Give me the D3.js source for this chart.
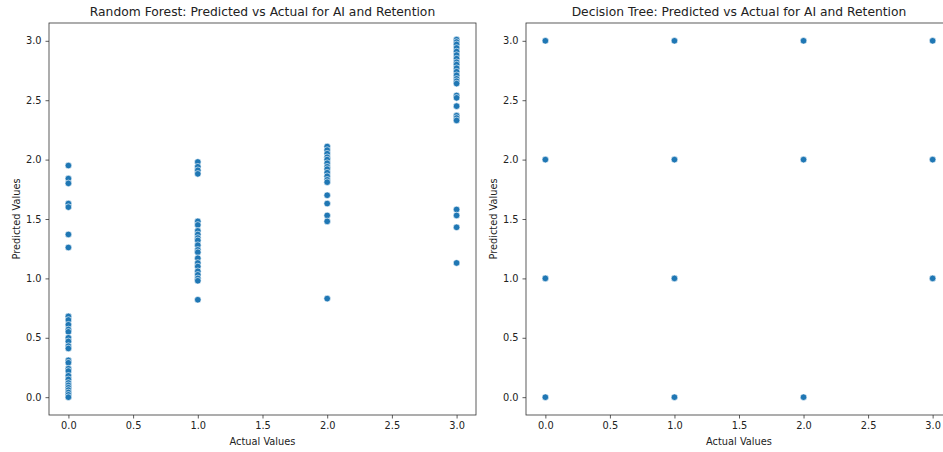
<!DOCTYPE html>
<html>
<head>
<meta charset="UTF-8">
<script src="https://d3js.org/d3.v7.min.js"></script>
<style>
  body { margin: 0; background: #fff; }
  text { font-family: "DejaVu Sans", sans-serif; fill: #222; }
</style>
</head>
<body>
<svg id="chart" width="943" height="452"></svg>
<script>
// ticks used on both axes of both panels
var tickValues = [0.0, 0.5, 1.0, 1.5, 2.0, 2.5, 3.0];

// Random Forest predictions, grouped by actual value
var rfActual0 = [1.95, 1.84, 1.80, 1.63, 1.60, 1.37, 1.26,
  0.68, 0.65, 0.61, 0.57, 0.55, 0.50, 0.47, 0.43, 0.41, 0.31, 0.29, 0.24, 0.22,
  0.18, 0.15, 0.12, 0.10, 0.08, 0.06, 0.04, 0.02, 0.0];
var rfActual1 = [1.98, 1.94, 1.91, 1.88,
  1.48, 1.45, 1.40, 1.37, 1.34, 1.32, 1.28, 1.24, 1.22, 1.17, 1.13, 1.10, 1.06,
  1.03, 1.00, 0.98, 0.82];
var rfActual2 = [2.11, 2.08, 2.05, 2.02, 2.00, 1.97, 1.94, 1.92, 1.89, 1.86,
  1.83, 1.81, 1.70, 1.63, 1.53, 1.48, 0.83];
var rfActual3 = [3.01, 2.99, 2.97, 2.94, 2.91, 2.88, 2.85, 2.82, 2.80, 2.77,
  2.74, 2.71, 2.68, 2.66, 2.64, 2.54, 2.52, 2.45, 2.37, 2.35, 2.33,
  1.58, 1.53, 1.43, 1.13];

// Decision Tree predictions, grouped by actual value
var dtActual0 = [3, 2, 1, 0];
var dtActual1 = [3, 2, 1, 0];
var dtActual2 = [3, 2, 0];
var dtActual3 = [3, 2, 1];

function toPoints(groups) {
  var pts = [];
  groups.forEach(function(vals, i) {
    vals.forEach(function(v) { pts.push({actual: i, predicted: v}); });
  });
  return pts;
}

var panels = [
  {title: "Random Forest: Predicted vs Actual for AI and Retention",
   left: 49, right: 476, data: toPoints([rfActual0, rfActual1, rfActual2, rfActual3])},
  {title: "Decision Tree: Predicted vs Actual for AI and Retention",
   left: 526, right: 952, data: toPoints([dtActual0, dtActual1, dtActual2, dtActual3])}
];

var plotTop = 23, plotBottom = 415;
var svg = d3.select("#chart");

panels.forEach(function(p) {
  var x = d3.scaleLinear().domain([-0.15, 3.15]).range([p.left, p.right]);
  var y = d3.scaleLinear().domain([-0.15, 3.15]).range([plotBottom, plotTop]);
  var g = svg.append("g");

  // points
  g.append("g").selectAll("circle")
    .data(p.data)
    .enter().append("circle")
      .attr("cx", function(d) { return x(d.actual); })
      .attr("cy", function(d) { return y(d.predicted); })
      .attr("r", 3.3)
      .attr("fill", "#1f77b4")
      .attr("stroke", "#fff")
      .attr("stroke-width", 0.6);

  // axes
  var xa = g.append("g")
    .attr("transform", "translate(0," + plotBottom + ")")
    .call(d3.axisBottom(x).tickValues(tickValues).tickFormat(d3.format(".1f")).tickSize(3.5).tickPadding(4).tickSizeOuter(0));
  var ya = g.append("g")
    .attr("transform", "translate(" + p.left + ",0)")
    .call(d3.axisLeft(y).tickValues(tickValues).tickFormat(d3.format(".1f")).tickSize(3.5).tickPadding(4).tickSizeOuter(0));
  [xa, ya].forEach(function(a) {
    a.select(".domain").remove();
    a.selectAll("line").attr("stroke", "#333").attr("stroke-width", 0.8);
    a.selectAll("text").style("font-size", "9.8px").style("font-family", "DejaVu Sans").attr("fill", "#222");
  });

  // frame
  g.append("rect")
    .attr("x", p.left).attr("y", plotTop)
    .attr("width", p.right - p.left).attr("height", plotBottom - plotTop)
    .attr("fill", "none").attr("stroke", "#333").attr("stroke-width", 0.8);

  // labels
  g.append("text")
    .attr("x", (p.left + p.right) / 2).attr("y", 16)
    .attr("text-anchor", "middle")
    .style("font-size", "12.3px")
    .text(p.title);
  g.append("text")
    .attr("x", (p.left + p.right) / 2).attr("y", 445)
    .attr("text-anchor", "middle")
    .style("font-size", "9.8px")
    .text("Actual Values");
  g.append("text")
    .attr("transform", "translate(" + (p.left - 29) + "," + ((plotTop + plotBottom) / 2) + ") rotate(-90)")
    .attr("text-anchor", "middle")
    .style("font-size", "9.8px")
    .text("Predicted Values");
});
</script>
</body>
</html>
